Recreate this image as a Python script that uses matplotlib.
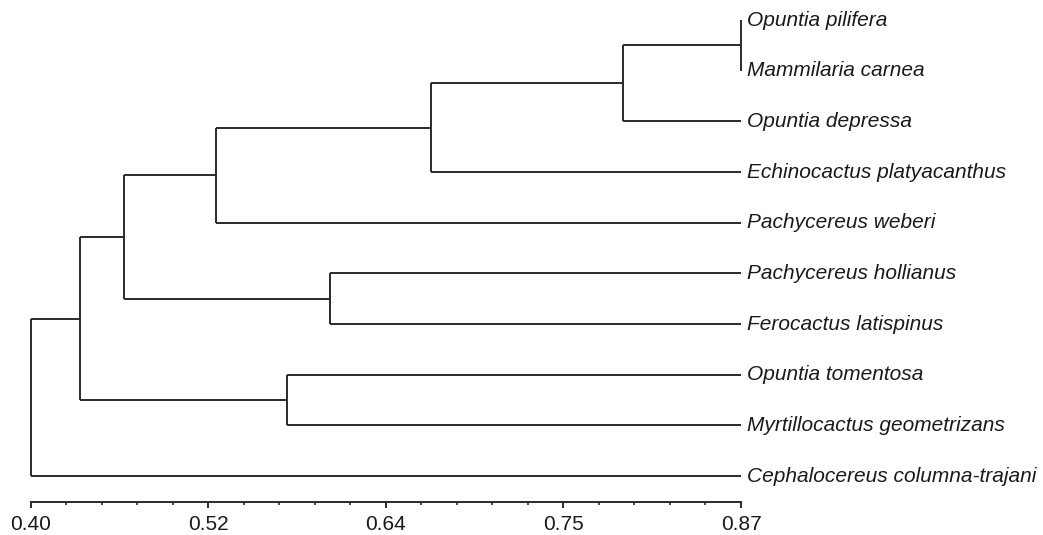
import numpy as np
import matplotlib.pyplot as plt

# leaf names, top to bottom
leaves = ['Opuntia pilifera', 'Mammilaria carnea', 'Opuntia depressa',
          'Echinocactus platyacanthus', 'Pachycereus weberi',
          'Pachycereus hollianus', 'Ferocactus latispinus',
          'Opuntia tomentosa', 'Myrtillocactus geometrizans',
          'Cephalocereus columna-trajani']

# merges: (child a, child b, similarity); new nodes get ids 10, 11, ...
merge_a = [0, 10, 11, 12, 5, 13, 7, 15, 17]
merge_b = [1, 2, 3, 4, 6, 14, 8, 16, 9]
merge_h = [0.87, 0.792, 0.665, 0.523, 0.598, 0.462, 0.570, 0.433, 0.40]

tick_vals = np.linspace(0.40, 0.87, 5)
tick_labels = ['0.40', '0.52', '0.64', '0.75', '0.87']

plt.rcParams['font.family'] = ['Liberation Sans', 'DejaVu Sans']

fig = plt.figure(figsize=(10.43, 5.35), dpi=100)
ax = fig.add_axes([30.5 / 1043, 33.3 / 535, 710.5 / 1043, 501.7 / 535])

line_kw = dict(color='#2a2a2a', lw=1.4, clip_on=False, solid_capstyle='butt')

# node positions: x = similarity, y = leaf order
node_x = {i: 0.87 for i in range(len(leaves))}
node_y = {i: float(i) for i in range(len(leaves))}
for k, (a, b, h) in enumerate(zip(merge_a, merge_b, merge_h)):
    n = len(leaves) + k
    ax.plot([h, h], [node_y[a], node_y[b]], **line_kw)
    for c in (a, b):
        if node_x[c] != h:
            ax.plot([h, node_x[c]], [node_y[c], node_y[c]], **line_kw)
    node_x[n] = h
    node_y[n] = (node_y[a] + node_y[b]) / 2

for i, name in enumerate(leaves):
    ax.text(0.874, i, name, style='italic', fontsize=15, va='center',
            ha='left', color='#1a1a1a')

ax.set_xlim(0.40, 0.87)
ax.set_ylim(9.506, -0.395)
ax.set_yticks([])
for s in ['left', 'top', 'right']:
    ax.spines[s].set_visible(False)
ax.spines['bottom'].set_color('#2a2a2a')
ax.spines['bottom'].set_linewidth(1.4)
ax.set_xticks(tick_vals)
ax.set_xticklabels(tick_labels)
ax.set_xticks(np.linspace(0.40, 0.87, 21), minor=True)
ax.tick_params(axis='x', which='major', length=4, width=1.4, color='#2a2a2a',
               labelsize=15, pad=5.5, labelcolor='#1a1a1a')
ax.tick_params(axis='x', which='minor', length=2, width=1.2, color='#2a2a2a')

fig.savefig('out.png', dpi=100)
